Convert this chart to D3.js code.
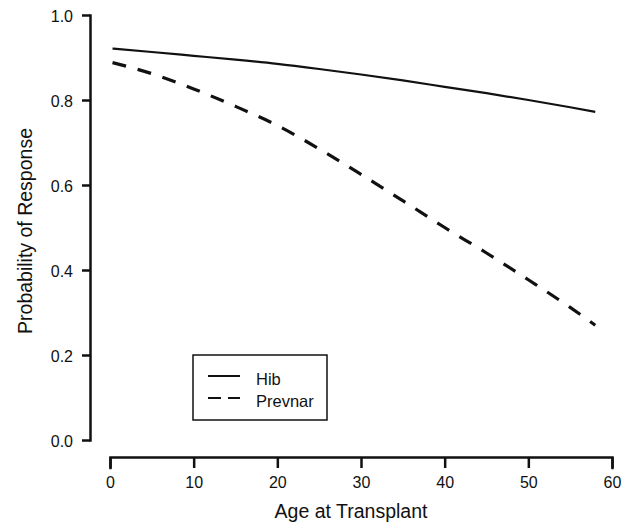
<!DOCTYPE html>
<html lang="en">
<head>
<meta charset="UTF-8">
<title>Probability of Response by Age at Transplant</title>
<script src="https://cdnjs.cloudflare.com/ajax/libs/d3/7.8.5/d3.min.js"></script>
<style>
  body { margin: 0; background: #fff; }
  svg text { font-family: "Liberation Sans", Arial, sans-serif; fill: #111; }
  .axis path, .axis line { stroke: #111; stroke-width: 2.5px; }
  .axis text { font-size: 16px; }
</style>
</head>
<body>
<svg id="chart" width="631" height="527"></svg>
<script>
// ages and fitted probabilities
var hibAge = [0.3, 5, 10, 15, 20, 25, 30, 35, 40, 45, 50, 55, 58];
var hibProb = [0.921, 0.913, 0.904, 0.895, 0.885, 0.873, 0.860, 0.846, 0.831, 0.816, 0.800, 0.783, 0.772];
var prevAge = [0.3, 5, 10, 15, 20, 25, 30, 35, 40, 45, 50, 55, 58];
var prevProb = [0.888, 0.862, 0.826, 0.785, 0.740, 0.685, 0.625, 0.563, 0.500, 0.440, 0.377, 0.312, 0.270];
var xTicks = [0, 10, 20, 30, 40, 50, 60];
var yTicks = [0, 0.2, 0.4, 0.6, 0.8, 1.0];
var seriesNames = ["Hib", "Prevnar"];

var svg = d3.select("#chart");

var x = d3.scaleLinear().domain([0, 60]).range([110, 612]);
var y = d3.scaleLinear().domain([0, 1]).range([440, 15]);

// y axis
svg.append("g")
  .attr("class", "axis")
  .attr("transform", "translate(90,0)")
  .call(d3.axisLeft(y).tickValues(yTicks).tickFormat(d3.format(".1f")).tickSize(8).tickSizeOuter(0).tickPadding(9))
  .selectAll("text").attr("dy", "0.4em");

// x axis, offset below the plot like base R
svg.append("g")
  .attr("class", "axis")
  .attr("transform", "translate(0,457)")
  .call(d3.axisBottom(x).tickValues(xTicks).tickSize(11).tickSizeOuter(11).tickPadding(9));

svg.selectAll(".axis .domain").attr("stroke-linecap", "square");

// axis titles
svg.append("text")
  .attr("x", 351).attr("y", 518)
  .attr("text-anchor", "middle")
  .style("font-size", "19.5px")
  .text("Age at Transplant");

svg.append("text")
  .attr("transform", "translate(32,231) rotate(-90)")
  .attr("text-anchor", "middle")
  .style("font-size", "19.5px")
  .text("Probability of Response");

var line = d3.line()
  .x(function(d){ return x(d[0]); })
  .y(function(d){ return y(d[1]); })
  .curve(d3.curveMonotoneX);

var hib = hibAge.map(function(a, i){ return [a, hibProb[i]]; });
var prev = prevAge.map(function(a, i){ return [a, prevProb[i]]; });

svg.append("path")
  .datum(hib)
  .attr("d", line)
  .attr("fill", "none")
  .attr("stroke", "#111")
  .attr("stroke-width", 2.2);

svg.append("path")
  .datum(prev)
  .attr("d", line)
  .attr("fill", "none")
  .attr("stroke", "#111")
  .attr("stroke-width", 3.2)
  .attr("stroke-dasharray", "14,12");

// legend
var legend = svg.append("g");
legend.append("rect")
  .attr("x", 193).attr("y", 355)
  .attr("width", 134).attr("height", 65)
  .attr("fill", "none")
  .attr("stroke", "#111")
  .attr("stroke-width", 1.5);

seriesNames.forEach(function(name, i){
  var ly = 376 + i * 22;
  legend.append("line")
    .attr("x1", 208).attr("x2", 240)
    .attr("y1", ly).attr("y2", ly)
    .attr("stroke", "#111")
    .attr("stroke-width", 2)
    .attr("stroke-dasharray", i == 0 ? null : "13,7");
  legend.append("text")
    .attr("x", 256).attr("y", ly + 9)
    .style("font-size", "16.5px")
    .text(name);
});
</script>
</body>
</html>
